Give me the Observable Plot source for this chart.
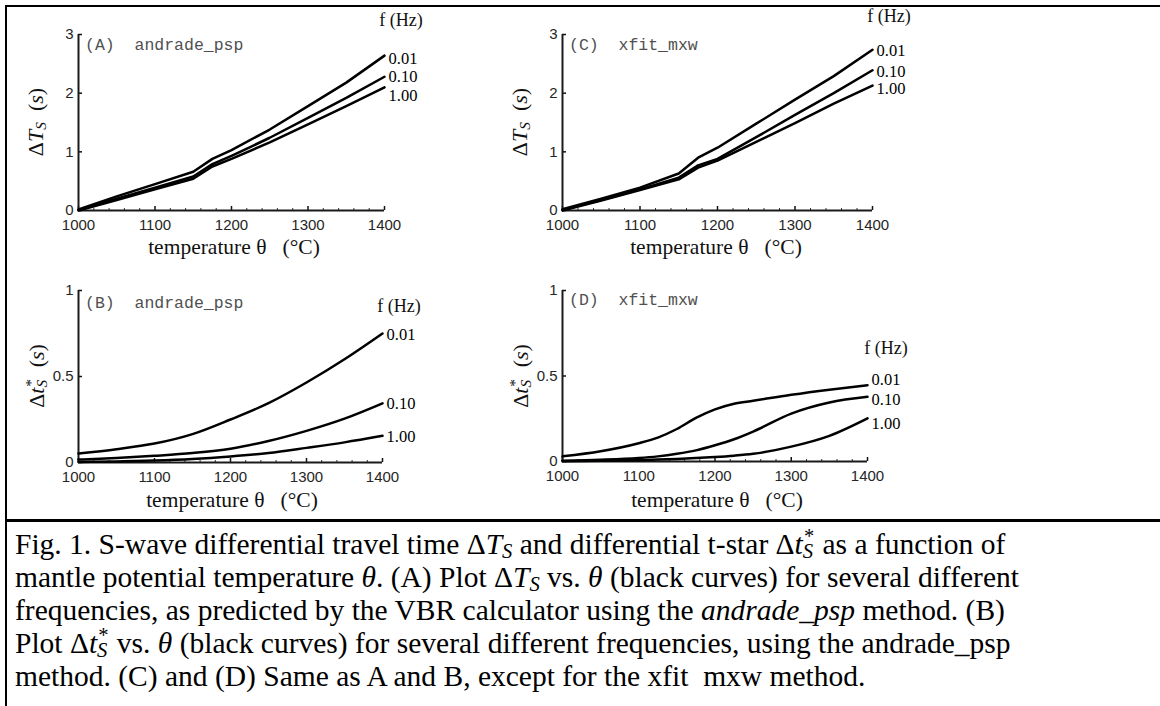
<!DOCTYPE html>
<html><head><meta charset="utf-8">
<script src="https://cdn.jsdelivr.net/npm/d3@7"></script>
<script src="https://cdn.jsdelivr.net/npm/@observablehq/plot@0.6"></script>
<style>
html,body{margin:0;padding:0;background:#fff;}
body{width:1160px;height:706px;overflow:hidden;position:relative;font-family:"Liberation Serif",serif;}
.line{position:absolute;background:#000;}
.panel{position:absolute;}
.panel svg{overflow:visible;}
.title{position:absolute;font-family:"Liberation Mono",monospace;font-size:16.5px;color:#505050;white-space:pre;transform:translateY(-50%);}
.ylab{position:absolute;font-family:"Liberation Serif",serif;font-size:22px;white-space:pre;transform:translate(-50%,-50%) rotate(-90deg);color:#111;}
.xlab{position:absolute;font-family:"Liberation Serif",serif;font-size:21.5px;white-space:pre;transform:translate(-50%,-50%);color:#111;}
.fhz{position:absolute;font-family:"Liberation Serif",serif;font-size:18px;white-space:pre;transform:translate(-50%,-50%);color:#111;}
sub{line-height:0;font-size:0.7em;vertical-align:-0.2em;}
.ss{position:relative;display:inline-block;width:0.42em;height:0.8em;}
.ss .sp{position:absolute;left:0.06em;top:-0.22em;font-size:0.7em;line-height:1;}
.ss .sb{position:absolute;left:0;top:0.5em;font-size:0.7em;line-height:1;font-style:italic;}
.cap{position:absolute;left:15px;top:528px;font-family:"Liberation Serif",serif;font-size:29.5px;line-height:33px;white-space:nowrap;color:#000;}
</style></head><body>
<div class="line" style="left:5px;top:5px;width:1155px;height:2px"></div>
<div class="line" style="left:5px;top:5px;width:2px;height:701px"></div>
<div class="line" style="left:5px;top:519px;width:1155px;height:3px"></div>
<div id="A" class="panel" style="left:0px;top:0px"></div>
<div id="C" class="panel" style="left:480px;top:0px"></div>
<div id="B" class="panel" style="left:0px;top:270px"></div>
<div id="D" class="panel" style="left:480px;top:270px"></div>

<div class="title" style="left:85px;top:45px">(A)  andrade_psp</div>
<div class="title" style="left:569px;top:45px">(C)  xfit_mxw</div>
<div class="title" style="left:85px;top:303px">(B)  andrade_psp</div>
<div class="title" style="left:569px;top:300px">(D)  xfit_mxw</div>

<div class="ylab" style="left:36px;top:122px">Δ<i>T</i><sub><i>S</i></sub>  (<i>s</i>)</div>
<div class="ylab" style="left:520px;top:122px">Δ<i>T</i><sub><i>S</i></sub>  (<i>s</i>)</div>
<div class="ylab" style="left:37px;top:376px">Δ<i>t</i><span class="ss"><span class="sp">*</span><span class="sb">S</span></span>  (<i>s</i>)</div>
<div class="ylab" style="left:521px;top:376px">Δ<i>t</i><span class="ss"><span class="sp">*</span><span class="sb">S</span></span>  (<i>s</i>)</div>

<div class="xlab" style="left:234px;top:247px">temperature θ   (°C)</div>
<div class="xlab" style="left:716px;top:247px">temperature θ   (°C)</div>
<div class="xlab" style="left:232px;top:500px">temperature θ   (°C)</div>
<div class="xlab" style="left:717px;top:500px">temperature θ   (°C)</div>

<div class="fhz" style="left:401px;top:20px">f (Hz)</div>
<div class="fhz" style="left:889px;top:16px">f (Hz)</div>
<div class="fhz" style="left:399px;top:306px">f (Hz)</div>
<div class="fhz" style="left:886px;top:348px">f (Hz)</div>

<div class="cap">Fig. 1. S-wave differential travel time Δ<i>T<sub>S</sub></i> and differential t-star Δ<i>t</i><span class="ss"><span class="sp">*</span><span class="sb">S</span></span> as a function of<br>mantle potential temperature <i>θ</i>. (A) Plot Δ<i>T<sub>S</sub></i> vs. <i>θ</i> (black curves) for several different<br>frequencies, as predicted by the VBR calculator using the <i>andrade_psp</i> method. (B)<br>Plot Δ<i>t</i><span class="ss"><span class="sp">*</span><span class="sb">S</span></span> vs. <i>θ</i> (black curves) for several different frequencies, using the andrade_psp<br>method. (C) and (D) Same as A and B, except for the xfit&nbsp; mxw method.</div>

<script>
// ---- data ----
const freqLabels = ["0.01", "0.10", "1.00"];
const xTicks = [1000, 1100, 1200, 1300, 1400];
const xMinor = [1020,1040,1060,1080,1120,1140,1160,1180,1220,1240,1260,1280,1320,1340,1360,1380];
const yTicksTs = [0, 1, 2, 3];
const yTicksTstar = [0, 0.5, 1];

// (A) andrade_psp, Delta T_S
const tempsTs = [1000, 1050, 1100, 1150, 1175, 1200, 1250, 1300, 1350, 1400];
const dTsAndrade001 = [0.02, 0.24, 0.45, 0.66, 0.88, 1.03, 1.38, 1.78, 2.18, 2.64];
const dTsAndrade010 = [0.01, 0.20, 0.39, 0.58, 0.79, 0.93, 1.24, 1.58, 1.92, 2.28];
const dTsAndrade100 = [0.00, 0.18, 0.36, 0.54, 0.75, 0.88, 1.16, 1.47, 1.78, 2.10];
// (C) xfit_mxw, Delta T_S
const dTsXfit001 = [0.02, 0.20, 0.39, 0.63, 0.90, 1.07, 1.48, 1.89, 2.29, 2.74];
const dTsXfit010 = [0.01, 0.18, 0.36, 0.56, 0.77, 0.88, 1.25, 1.63, 2.00, 2.39];
const dTsXfit100 = [0.00, 0.17, 0.35, 0.53, 0.73, 0.85, 1.17, 1.49, 1.82, 2.13];
// (B) andrade_psp, Delta t*_S
const tempsB = [1000, 1050, 1100, 1150, 1200, 1250, 1300, 1350, 1400];
const dtsAndrade001 = [0.052, 0.077, 0.110, 0.165, 0.250, 0.345, 0.465, 0.600, 0.750];
const dtsAndrade010 = [0.017, 0.026, 0.039, 0.055, 0.080, 0.125, 0.184, 0.255, 0.344];
const dtsAndrade100 = [0.003, 0.006, 0.011, 0.020, 0.035, 0.055, 0.085, 0.117, 0.155];
// (D) xfit_mxw, Delta t*_S
const tempsD = [1000, 1050, 1100, 1125, 1150, 1175, 1200, 1225, 1250, 1300, 1350, 1400];
const dtsXfit001 = [0.030, 0.060, 0.107, 0.140, 0.190, 0.255, 0.305, 0.338, 0.355, 0.390, 0.420, 0.446];
const dtsXfit010 = [0.005, 0.010, 0.020, 0.030, 0.045, 0.065, 0.095, 0.130, 0.175, 0.280, 0.345, 0.378];
const dtsXfit100 = [0.002, 0.004, 0.008, 0.011, 0.015, 0.020, 0.026, 0.034, 0.045, 0.087, 0.150, 0.252];

// ---- drawing ----
function drawPanel(cfg) {
  const rows = [];
  cfg.series.forEach((vals, j) => vals.forEach((v, i) => rows.push({t: cfg.temps[i], v, f: freqLabels[j]})));
  const last = cfg.temps.length - 1;
  const ends = freqLabels.map((f, j) => ({t: cfg.temps[last], v: cfg.series[j][last], f}));
  const innerW = cfg.width - cfg.mL - cfg.mR;
  const innerH = cfg.height - cfg.mT - cfg.mB;
  const [y0, y1] = cfg.yDomain;
  const ky = (y1 - y0) / innerH;
  const kx = 400 / innerW;
  const labelMarks = ends.map((e, j) => Plot.text([e], {
    x: "t", y: "v", text: "f", dx: 4, dy: cfg.labelDy[j], textAnchor: "start",
    fontSize: 16.5, fontFamily: "Liberation Serif", fill: "#000"
  }));
  const plot = Plot.plot({
    width: cfg.width, height: cfg.height,
    marginLeft: cfg.mL, marginRight: cfg.mR, marginTop: cfg.mT, marginBottom: cfg.mB,
    x: {domain: [1000, 1400]},
    y: {domain: cfg.yDomain},
    style: {background: "transparent", overflow: "visible", fontFamily: "Liberation Sans"},
    marks: [
      Plot.axisX({ticks: xTicks, tickSize: 0, tickPadding: 9, fontSize: 15, color: "#262626", label: null, tickFormat: d => String(d)}),
      Plot.axisY({ticks: cfg.yTicks, tickSize: 0, tickPadding: 5, fontSize: 15, color: "#262626", label: null, tickFormat: d => String(d)}),
      Plot.ruleX(xMinor, {x: d => d, y1: y0, y2: y0 + 2 * ky, stroke: "#333", strokeWidth: 1}),
      Plot.ruleX(xTicks, {x: d => d, y1: y0, y2: y0 + 4 * ky, stroke: "#111", strokeWidth: 1.5}),
      Plot.ruleY(cfg.yTicks, {y: d => d, x1: 1000, x2: 1000 + 4 * kx, stroke: "#111", strokeWidth: 1.5}),
      Plot.ruleY([y0], {x1: 1000, x2: 1400, stroke: "#1a1a1a", strokeWidth: 2}),
      Plot.ruleX([1000], {y1: y0, y2: y1, stroke: "#1a1a1a", strokeWidth: 2}),
      Plot.line(rows, {x: "t", y: "v", z: "f", stroke: "#000", strokeWidth: 2.5, curve: cfg.curve}),
      ...labelMarks
    ]
  });
  document.getElementById(cfg.id).appendChild(plot);
}

drawPanel({id: "A", width: 480, height: 265, mL: 78, mR: 96, mT: 34, mB: 55,
  yDomain: [0, 3], yTicks: yTicksTs, temps: tempsTs,
  series: [dTsAndrade001, dTsAndrade010, dTsAndrade100], labelDy: [3, 0, 8], curve: "linear"});
drawPanel({id: "C", width: 480, height: 265, mL: 82, mR: 88, mT: 34, mB: 55,
  yDomain: [0, 3], yTicks: yTicksTs, temps: tempsTs,
  series: [dTsXfit001, dTsXfit010, dTsXfit100], labelDy: [1, 1, 3], curve: "linear"});
drawPanel({id: "B", width: 480, height: 245, mL: 78, mR: 98, mT: 20, mB: 53,
  yDomain: [0, 1], yTicks: yTicksTstar, temps: tempsB,
  series: [dtsAndrade001, dtsAndrade010, dtsAndrade100], labelDy: [1, 0, 1], curve: "monotone-x"});
drawPanel({id: "D", width: 480, height: 245, mL: 82, mR: 93, mT: 20, mB: 54,
  yDomain: [0, 1], yTicks: yTicksTstar, temps: tempsD,
  series: [dtsXfit001, dtsXfit010, dtsXfit100], labelDy: [-6, 3, 5], curve: "monotone-x"});
</script>
</body></html>
